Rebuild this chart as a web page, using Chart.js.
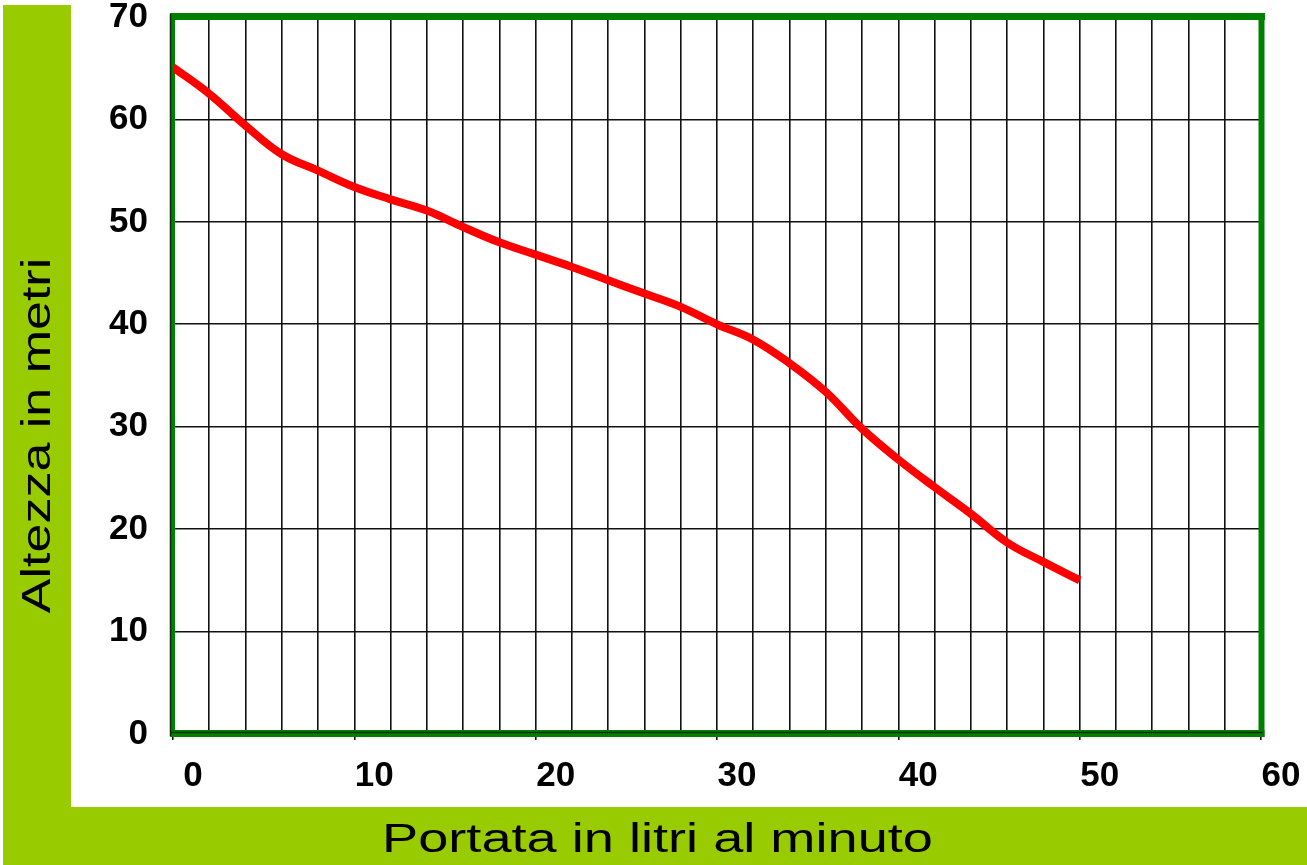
<!DOCTYPE html>
<html>
<head>
<meta charset="utf-8">
<script src="https://cdn.jsdelivr.net/npm/chart.js@4/dist/chart.umd.min.js"></script>
<style>
html, body { margin: 0; padding: 0; background: #ffffff; }
#wrap { width: 1307px; height: 865px; position: relative; }
canvas { display: block; }
</style>
</head>
<body>
<div id="wrap"><canvas id="chart" width="1307" height="865"></canvas></div>
<script>
// ---- data ----
const flowLitresPerMinute = [0, 2, 4, 6, 8, 10, 12, 14, 16, 18, 20, 22, 24, 26, 28, 30, 32, 34, 36, 38, 40, 42, 44, 46, 48, 50];
const heightMetres = [65.1, 62.5, 59.4, 56.6, 55.0, 53.4, 52.2, 51.1, 49.5, 48.0, 46.8, 45.6, 44.3, 43.0, 41.7, 40.0, 38.5, 36.2, 33.4, 29.8, 26.8, 24.1, 21.5, 18.7, 16.8, 15.0];
const xTickLabels = ['0', '10', '20', '30', '40', '50', '60'];
const yTickLabels = ['0', '10', '20', '30', '40', '50', '60', '70'];
const xTitleText = 'Portata in litri al minuto';
const yTitleText = 'Altezza in metri';

const points = flowLitresPerMinute.map((x, i) => ({ x: x, y: heightMetres[i] }));

const GREEN_STRIP = '#99cc00';
const BORDER_GREEN = '#008000';

const backgroundPlugin = {
  id: 'backgroundStrips',
  beforeDraw(chart) {
    const ctx = chart.ctx;
    ctx.save();
    ctx.fillStyle = '#ffffff';
    ctx.fillRect(0, 0, chart.width, chart.height);
    ctx.fillStyle = GREEN_STRIP;
    ctx.fillRect(3, 5, 68, chart.height - 5);
    ctx.fillRect(3, 807, chart.width - 3, chart.height - 807);
    ctx.restore();
  }
};

const framePlugin = {
  id: 'greenFrame',
  beforeDatasetsDraw(chart) {
    const ctx = chart.ctx;
    const a = chart.chartArea;
    ctx.save();
    ctx.strokeStyle = BORDER_GREEN;
    ctx.lineCap = 'butt';
    // top
    ctx.lineWidth = 7;
    ctx.beginPath(); ctx.moveTo(a.left - 3, a.top - 0.5); ctx.lineTo(a.right + 4, a.top - 0.5); ctx.stroke();
    // right
    ctx.lineWidth = 6;
    ctx.beginPath(); ctx.moveTo(a.right + 0.5, a.top - 4); ctx.lineTo(a.right + 0.5, a.bottom + 3); ctx.stroke();
    // bottom
    ctx.lineWidth = 7;
    ctx.beginPath(); ctx.moveTo(a.left - 3, a.bottom - 0.5); ctx.lineTo(a.right + 3.5, a.bottom - 0.5); ctx.stroke();
    // left
    ctx.lineWidth = 5;
    ctx.beginPath(); ctx.moveTo(a.left - 0.5, a.top - 4); ctx.lineTo(a.left - 0.5, a.bottom + 3); ctx.stroke();
    // thin dark axis lines
    ctx.strokeStyle = '#0a2a0a';
    ctx.lineWidth = 1.5;
    ctx.beginPath(); ctx.moveTo(a.left - 2, a.bottom - 1.5); ctx.lineTo(a.right + 2, a.bottom - 1.5); ctx.stroke();
    ctx.beginPath(); ctx.moveTo(a.left - 2.5, a.top - 3); ctx.lineTo(a.left - 2.5, a.bottom + 2); ctx.stroke();
    ctx.restore();
  }
};

const titlesPlugin = {
  id: 'axisTitles',
  afterDraw(chart) {
    const ctx = chart.ctx;
    ctx.save();
    ctx.fillStyle = '#000000';
    ctx.font = '40px "Liberation Sans", Arial, sans-serif';
    ctx.textAlign = 'center';
    ctx.textBaseline = 'alphabetic';
    // x title (horizontally stretched like the original)
    ctx.save();
    ctx.translate(657.5, 852);
    ctx.scale(1.354, 1);
    ctx.fillText(xTitleText, 0, 0);
    ctx.restore();
    // y title, rotated
    ctx.save();
    ctx.translate(50, 435.5);
    ctx.rotate(-Math.PI / 2);
    ctx.scale(1.30, 1);
    ctx.fillText(yTitleText, 0, 0);
    ctx.restore();
    ctx.restore();
  }
};

new Chart(document.getElementById('chart'), {
  type: 'line',
  data: {
    datasets: [{
      label: yTitleText,
      data: points,
      borderColor: '#ff0000',
      backgroundColor: '#ff0000',
      borderWidth: 8,
      pointRadius: 0,
      tension: 0.4,
      fill: false,
      borderCapStyle: 'butt',
      borderJoinStyle: 'round'
    }]
  },
  options: {
    responsive: false,
    animation: false,
    devicePixelRatio: 1,
    layout: { padding: { top: 17, right: 46, left: 0, bottom: 0 } },
    plugins: {
      legend: { display: false },
      tooltip: { enabled: false },
      title: { display: false }
    },
    scales: {
      x: {
        type: 'linear',
        position: 'bottom',
        min: 0,
        max: 60,
        border: { display: false },
        grid: {
          color: '#111111',
          lineWidth: 1.6,
          drawTicks: true,
          tickLength: 6,
          tickWidth: 1.5,
          tickColor: (c) => (c.tick && c.tick.value % 10 === 0) ? '#000000' : 'rgba(0,0,0,0)'
        },
        ticks: {
          stepSize: 2,
          autoSkip: false,
          maxRotation: 0,
          minRotation: 0,
          labelOffset: 20,
          padding: 15,
          color: '#000000',
          font: { family: '"Liberation Sans", Arial, sans-serif', size: 35, weight: 'bold' },
          callback: (v) => {
            const idx = xTickLabels.indexOf(String(v));
            return (v % 10 === 0 && idx >= 0) ? xTickLabels[idx] : '';
          }
        },
        afterFit: (s) => { s.height = 131; s.paddingLeft = 0; s.paddingRight = 0; }
      },
      y: {
        type: 'linear',
        min: 0,
        max: 70,
        border: { display: false },
        grid: {
          color: '#111111',
          lineWidth: 1.6,
          drawTicks: false
        },
        ticks: {
          stepSize: 10,
          padding: 25,
          color: '#000000',
          font: { family: '"Liberation Sans", Arial, sans-serif', size: 35, weight: 'bold' },
          callback: (v) => {
            const idx = yTickLabels.indexOf(String(v));
            return idx >= 0 ? yTickLabels[idx] : '';
          }
        },
        afterFit: (s) => { s.width = 173; s.paddingTop = 0; s.paddingBottom = 0; }
      }
    }
  },
  plugins: [backgroundPlugin, framePlugin, titlesPlugin]
});
</script>
</body>
</html>
